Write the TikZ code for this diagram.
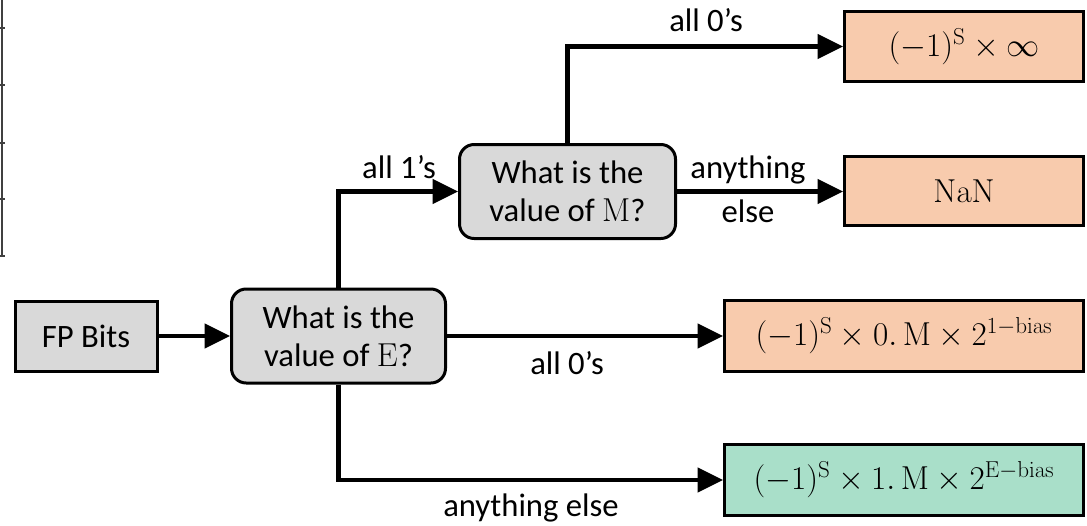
\documentclass[tikz,border=0pt]{standalone}
\usepackage[no-math]{fontspec}
\newfontfamily\carlito{Carlito}
\usetikzlibrary{arrows.meta}
\definecolor{boxgray}{HTML}{D9D9D9}
\definecolor{boxorange}{HTML}{F8CBAD}
\definecolor{boxgreen}{HTML}{A9DFC9}
\definecolor{edgegray}{HTML}{404040}
\tikzset{
  box/.style={draw=black, line width=2.25pt, inner sep=0pt, align=center},
  graybox/.style={box, fill=boxgray, font=\carlito\fontsize{24.5}{28.5}\selectfont},
  question/.style={graybox, rounded corners=11pt},
  result/.style={box, font=\fontsize{24.5}{28.5}\selectfont},
  conn/.style={line width=3.2pt, -{Triangle[length=19pt,width=18pt]}},
  lbl/.style={font=\carlito\fontsize{24.5}{28.5}\selectfont, inner sep=0pt},
  edgeline/.style={draw=edgegray, line width=1.5pt}
}
\begin{document}
\begin{tikzpicture}[x=0.75pt,y=-0.75pt]
\useasboundingbox (0,0) rectangle (1087,525);
% fragment at left edge
\draw[edgeline] (2,0) -- (2,256);
\foreach \yy in {28,85,143,199,256} \draw[edgeline] (0,\yy) -- (5,\yy);
% nodes
\node[graybox, minimum width=106.5pt, minimum height=52.5pt] (fp) at (86,336) {FP Bits};
\node[question, minimum width=160.5pt, minimum height=70.5pt] (qe) at (338.5,336) {What is the\\value of $\mathrm{E}$?};
\node[question, minimum width=162pt, minimum height=70.5pt] (qm) at (567.5,191.5) {What is the\\value of $\mathrm{M}$?};
\node[result, fill=boxorange, minimum width=179.25pt, minimum height=52.5pt] (inf) at (964,46.5) {$(-1)^{\mathrm{S}}\times\infty$};
\node[result, fill=boxorange, minimum width=179.25pt, minimum height=51.75pt] (nan) at (964,191) {$\mathrm{NaN}$};
\node[result, fill=boxorange, minimum width=269.25pt, minimum height=53.25pt] (sub) at (904,336) {$(-1)^{\mathrm{S}}\times 0.\,\mathrm{M}\times 2^{1-\mathrm{bias}}$};
\node[result, fill=boxgreen, minimum width=269.25pt, minimum height=53.25pt] (norm) at (904,480) {$(-1)^{\mathrm{S}}\times 1.\,\mathrm{M}\times 2^{\mathrm{E}-\mathrm{bias}}$};
% connectors
\draw[conn] (fp) -- (qe);
\draw[conn] (qe.north) |- (qm.west);
\draw[conn] (qm.north) |- (inf.west);
\draw[conn] (qm.east) -- (qm.east -| nan.west);
\draw[conn] (qe.east) -- (qe.east -| sub.west);
\draw[conn] (qe.south) |- (norm.west);
% labels
\node[lbl] (l1) at (399,167) {all 1’s};
\node[lbl] (l2) at (706,20) {all 0’s};
\node[lbl] (l3) at (748,170) {anything};
\node[lbl] (l4) at (748,211) {else};
\node[lbl] (l5) at (567,363) {all 0’s};
\node[lbl] (l6) at (531,508) {anything else};
\end{tikzpicture}
\end{document}
